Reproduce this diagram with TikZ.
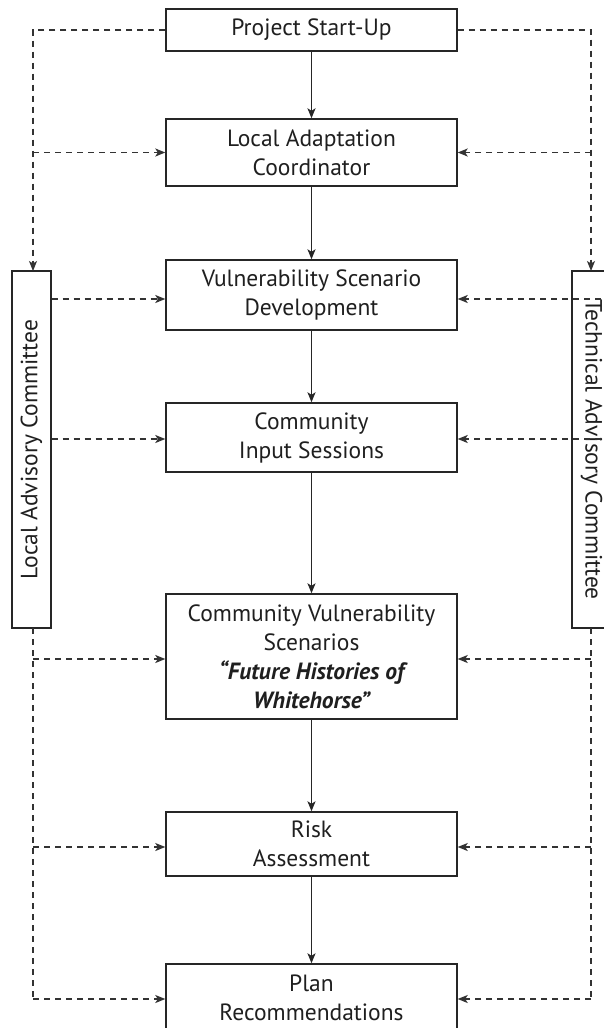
\documentclass[tikz,border=0pt]{standalone}
\usepackage{fontspec}
\setmainfont{PT Sans}
\usetikzlibrary{arrows.meta}
\begin{document}
\begin{tikzpicture}[x=1pt,y=-1pt,
  stage/.style={draw=black!85,line width=1.4pt,minimum width=291pt,align=center,
    font=\fontsize{23.5}{29}\selectfont,text=black!88,inner sep=0pt},
  panel/.style={draw=black!85,line width=1.4pt,minimum width=357pt,minimum height=39pt,
    font=\fontsize{23.5}{29}\selectfont,text=black!88,inner sep=0pt},
  flow/.style={draw=black!85,line width=1.3pt,-{Stealth[length=10pt,width=8pt,inset=2.5pt]}},
  feed/.style={draw=black!80,line width=1.3pt,dash pattern=on 6pt off 5pt,
    -{Stealth[length=10pt,width=8pt,inset=2.5pt]}},
  feedline/.style={draw=black!80,line width=1.3pt,dash pattern=on 6pt off 5pt}]
\clip (0,0) rectangle (604,1028);
\fill[white] (0,0) rectangle (604,1028);

% main sequence of stages
\node[stage,minimum height=42pt] (start) at (311.5,30) {Project Start-Up};
\node[stage,minimum height=67pt] (coord) at (311.5,152.5) {Local Adaptation\\Coordinator};
\node[stage,minimum height=70pt] (vsd) at (311.5,295) {Vulnerability Scenario\\Development};
\node[stage,minimum height=69pt] (cis) at (311.5,437.5) {Community\\Input Sessions};
\node[stage,minimum height=125pt] (cvs) at (311.5,656.5) {Community Vulnerability\\Scenarios\\{\bfseries\itshape “Future Histories of}\\{\bfseries\itshape Whitehorse”}};
\node[stage,minimum height=64pt] (risk) at (311.5,844) {Risk\\Assessment};
\node[stage,minimum height=68pt] (plan) at (311.5,998) {Plan\\Recommendations};

% advisory committees on both sides
\node[panel,rotate=90] (lac) at (31.5,449.5) {Local Advisory Committee};
\node[panel,rotate=-90] (tac) at (591.5,449.5) {Technical Advisory Committee};

% solid flow between stages
\draw[flow] (start) -- (coord);
\draw[flow] (coord) -- (vsd);
\draw[flow] (vsd) -- (cis);
\draw[flow] (cis) -- (cvs);
\draw[flow] (cvs) -- (risk);
\draw[flow] (risk) -- (plan);

% junction points on the dashed rails
\coordinate (lA) at (33,152.5);
\coordinate (lB) at (33,659);
\coordinate (lC) at (33,847);
\coordinate (lD) at (33,999);
\coordinate (rA) at (591,152.5);
\coordinate (rB) at (591,659);
\coordinate (rC) at (591,847);
\coordinate (rD) at (591,999);

% left rail
\draw[feed] (start.west) -| (33,271);
\draw[feed] (lA) -- (coord.west);
\draw[feed] (lac.south |- 0,299) -- (vsd.west |- 0,299);
\draw[feed] (lac.south |- 0,439) -- (cis.west |- 0,439);
\draw[feedline] (33,628) -- (lD);
\draw[feed] (lB) -- (cvs.west |- lB);
\draw[feed] (lC) -- (risk.west |- lC);
\draw[feed] (lD) -- (plan.west |- lD);

% right rail
\draw[feed] (start.east) -| (591,271);
\draw[feed] (rA) -- (coord.east);
\draw[feed] (tac.north |- 0,299) -- (vsd.east |- 0,299);
\draw[feed] (tac.north |- 0,439) -- (cis.east |- 0,439);
\draw[feedline] (591,628) -- (rD);
\draw[feed] (rB) -- (cvs.east |- rB);
\draw[feed] (rC) -- (risk.east |- rC);
\draw[feed] (rD) -- (plan.east |- rD);
\end{tikzpicture}
\end{document}
